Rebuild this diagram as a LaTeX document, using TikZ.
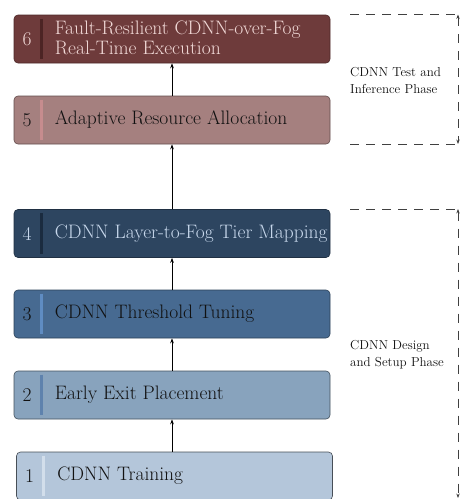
\documentclass[tikz,border=0pt]{standalone}
\usetikzlibrary{arrows.meta}
\definecolor{fsix}{HTML}{6E3B3B}\definecolor{dsix}{HTML}{4C2424}\definecolor{tsix}{HTML}{F0D8D6}
\definecolor{ffive}{HTML}{A5807F}\definecolor{dfive}{HTML}{C68C8E}
\definecolor{ffour}{HTML}{2D4560}\definecolor{dfour}{HTML}{1A2B3F}\definecolor{tfour}{HTML}{C8D8EC}
\definecolor{fthree}{HTML}{476A91}\definecolor{dthree}{HTML}{5F8CC2}
\definecolor{ftwo}{HTML}{88A3BD}\definecolor{dtwo}{HTML}{5E82AD}
\definecolor{fone}{HTML}{B4C6DA}\definecolor{done}{HTML}{D2DEEB}
\definecolor{txt}{HTML}{111111}
\tikzset{
  stagebox/.style={rectangle, rounded corners=4pt, minimum width=316pt, minimum height=48pt, inner sep=0pt, line width=0.6pt},
  stagenum/.style={font=\fontsize{19.5}{21}\selectfont, inner sep=0pt, anchor=center},
  stagetxt/.style={font=\fontsize{19.5}{20.5}\selectfont, inner sep=0pt, anchor=west, align=left},
  flow/.style={-{Stealth[length=5pt,width=3.6pt]}, line width=0.7pt, black},
  phase/.style={draw=black!75, line width=0.8pt, dash pattern=on 9pt off 7pt},
  phasearrow/.style={draw=black!75, line width=0.8pt, dash pattern=on 9pt off 8pt, {Stealth[length=4.5pt,width=3.4pt]}-{Stealth[length=4.5pt,width=3.4pt]}},
  phaselbl/.style={font=\fontsize{13}{17}\selectfont, inner sep=0pt, anchor=west, align=left, text=txt},
}
\begin{document}
\begin{tikzpicture}[x=1pt,y=1pt]
\useasboundingbox (0,0) rectangle (464,-499);
% boxes
\node[stagebox, fill=fsix, draw=fsix!70!black] (b6) at (172,-39) {};
\node[stagebox, fill=ffive, draw=ffive!60!black] (b5) at (172,-120) {};
\node[stagebox, fill=ffour, draw=ffour!70!black] (b4) at (172,-233.5) {};
\node[stagebox, fill=fthree, draw=fthree!60!black] (b3) at (172,-314) {};
\node[stagebox, fill=ftwo, draw=ftwo!50!black] (b2) at (172,-395) {};
\node[stagebox, fill=fone, draw=fone!40!black] (b1) at (174.5,-476) {};
% dividers
\draw[dsix, line width=2.6pt] ([xshift=27.5pt,yshift=-4pt]b6.north west) -- ([xshift=27.5pt,yshift=4pt]b6.south west);
\draw[dfive, line width=2.6pt] ([xshift=27.5pt,yshift=-4pt]b5.north west) -- ([xshift=27.5pt,yshift=4pt]b5.south west);
\draw[dfour, line width=2.6pt] ([xshift=27.5pt,yshift=-4pt]b4.north west) -- ([xshift=27.5pt,yshift=4pt]b4.south west);
\draw[dthree, line width=2.6pt] ([xshift=27.5pt,yshift=-4pt]b3.north west) -- ([xshift=27.5pt,yshift=4pt]b3.south west);
\draw[dtwo, line width=2.6pt] ([xshift=27.5pt,yshift=-4pt]b2.north west) -- ([xshift=27.5pt,yshift=4pt]b2.south west);
\draw[done, line width=2.6pt] ([xshift=27.5pt,yshift=-4pt]b1.north west) -- ([xshift=27.5pt,yshift=4pt]b1.south west);
% numbers
\node[stagenum, text=tsix] (n6) at ([xshift=13.5pt]b6.west) {6};
\node[stagenum, text=txt] (n5) at ([xshift=13.5pt]b5.west) {5};
\node[stagenum, text=tfour] (n4) at ([xshift=13.5pt]b4.west) {4};
\node[stagenum, text=txt] (n3) at ([xshift=13.5pt]b3.west) {3};
\node[stagenum, text=txt] (n2) at ([xshift=13.5pt]b2.west) {2};
\node[stagenum, text=txt] (n1) at ([xshift=13.5pt]b1.west) {1};
% texts
\node[stagetxt, text=tsix] (t6) at ([xshift=41pt,yshift=1pt]b6.west) {Fault-Resilient CDNN-over-Fog\\Real-Time Execution};
\node[stagetxt, text=txt] (t5) at ([xshift=41pt]b5.west) {Adaptive Resource Allocation};
\node[stagetxt, text=tfour] (t4) at ([xshift=41pt]b4.west) {CDNN Layer-to-Fog Tier Mapping};
\node[stagetxt, text=txt] (t3) at ([xshift=41pt]b3.west) {CDNN Threshold Tuning};
\node[stagetxt, text=txt] (t2) at ([xshift=41pt]b2.west) {Early Exit Placement};
\node[stagetxt, text=txt] (t1) at ([xshift=41pt]b1.west) {CDNN Training};
% flow arrows
\draw[flow] (b1.north -| b2.south) -- (b2.south);
\draw[flow] (b2.north) -- (b3.south);
\draw[flow] (b3.north) -- (b4.south);
\draw[flow] (b4.north) -- (b5.south);
\draw[flow] (b5.north) -- (b6.south);
% phase brackets
\coordinate (p1tl) at (350,-14.5);
\coordinate (p1tr) at (458,-14.5);
\coordinate (p1bl) at (350,-144);
\coordinate (p1br) at (458,-144);
\draw[phase] (p1tl) -- (p1tr);
\draw[phase] (p1bl) -- (p1br);
\draw[phasearrow] (p1tr) -- (p1br);
\node[phaselbl] (l1) at (350,-80) {CDNN Test and\\Inference Phase};
\coordinate (p2tl) at (350,-209);
\coordinate (p2tr) at (458,-209);
\coordinate (p2br) at (458,-498);
\draw[phase] (p2tl) -- (p2tr);
\draw[phasearrow] (p2tr) -- (p2br);
\node[phaselbl] (l2) at (350,-355) {CDNN Design\\and Setup Phase};
\end{tikzpicture}
\end{document}
